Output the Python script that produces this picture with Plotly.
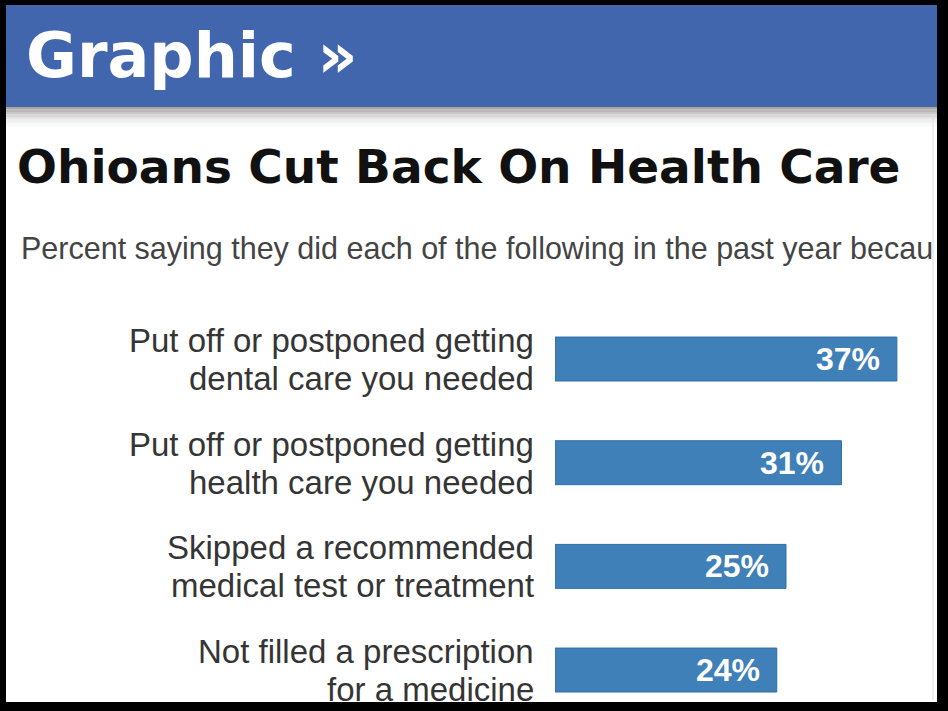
import plotly.graph_objects as go

header_text = "Graphic »"
title_text = "Ohioans Cut Back On Health Care"
subtitle_text = "Percent saying they did each of the following in the past year becau"

categories = [
    "Put off or postponed getting<br>dental care you needed",
    "Put off or postponed getting<br>health care you needed",
    "Skipped a recommended<br>medical test or treatment",
    "Not filled a prescription<br>for a medicine",
]
values = [37, 31, 25, 24]
value_labels = [f"{v}%" for v in values]

W, H = 948, 711
FONT = "Liberation Sans, Arial, Helvetica, sans-serif"
HEAVY = "DejaVu Sans, Liberation Sans, Arial, sans-serif"


def px(x):
    return x / W


def py(y):
    return 1 - y / H


fig = go.Figure()
fig.add_trace(go.Bar(
    x=values,
    y=categories,
    orientation="h",
    marker=dict(color="#3e80b7", line=dict(color="#2f6ea6", width=1)),
    hoverinfo="skip",
))

shapes = []
# header band
shapes.append(dict(type="rect", xref="paper", yref="paper", x0=0, x1=1, y0=py(107), y1=py(0),
                   fillcolor="#4266ad", line=dict(width=0), layer="below"))
# shadow gradient under header
grad = ["#a9a6a2", "#b9b6b3", "#c9c7c5", "#d8d7d6", "#e5e4e4", "#efefef", "#f6f6f6", "#fbfbfb"]
for i, c in enumerate(grad):
    shapes.append(dict(type="rect", xref="paper", yref="paper", x0=0, x1=1,
                       y0=py(107 + 2.5 * (i + 1)), y1=py(107 + 2.5 * i),
                       fillcolor=c, line=dict(width=0), layer="below"))
# black frame
for (x0, x1, y0, y1) in [(0, 6, 0, H), (937, W, 0, H), (0, W, 0, 5), (0, W, 702, H)]:
    shapes.append(dict(type="rect", xref="paper", yref="paper", x0=px(x0), x1=px(x1),
                       y0=py(y1), y1=py(y0), fillcolor="#000000", line=dict(width=0), layer="above"))
# thin light line inside right frame
shapes.append(dict(type="line", xref="paper", yref="paper", x0=px(933), x1=px(933), y0=py(700), y1=py(115),
                   line=dict(color="#dddddd", width=1), layer="above"))

annotations = [
    dict(text=header_text, xref="paper", yref="paper", x=px(24), y=py(55), xanchor="left", yanchor="middle",
         showarrow=False, font=dict(family=HEAVY, size=62, color="white", weight="bold")),
    dict(text=title_text, xref="paper", yref="paper", x=px(15), y=py(166.5), xanchor="left", yanchor="middle",
         showarrow=False, font=dict(family=HEAVY, size=47, color="#111111", weight="bold")),
    dict(text=subtitle_text, xref="paper", yref="paper", x=px(19), y=py(248), xanchor="left", yanchor="middle",
         showarrow=False, font=dict(family=FONT, size=30.5, color="#444444")),
]
for cat, v, lab in zip(categories, values, value_labels):
    lines = cat.split("<br>")
    for li, (line, shift) in enumerate(zip(lines, [18.5, -19.5])):
        annotations.append(dict(text=line, x=px(536), y=cat, xref="paper", yref="y",
                                xanchor="right", yanchor="middle", yshift=shift, showarrow=False,
                                font=dict(family=FONT, size=33, color="#353535")))
    annotations.append(dict(text=lab, x=v, y=cat, xref="x", yref="y", xanchor="right", yanchor="middle",
                            xshift=-15, showarrow=False,
                            font=dict(family=FONT, size=32, color="white", weight="bold")))

fig.update_layout(
    width=W, height=H,
    margin=dict(l=0, r=0, t=0, b=0),
    paper_bgcolor="white", plot_bgcolor="white",
    template="none",
    showlegend=False,
    bargap=0.576,
    shapes=shapes,
    annotations=annotations,
    xaxis=dict(domain=[555 / W, (555 + 40 * 9.24) / W], range=[0, 40], visible=False, fixedrange=True),
    yaxis=dict(range=[3.395, -3.463], showgrid=False, zeroline=False, showline=False, ticks="",
               automargin=False, showticklabels=False, fixedrange=True),
)

fig.write_html("out.html", config={"displayModeBar": False},
               post_script="document.body.style.margin='0';document.body.style.overflow='hidden';")
